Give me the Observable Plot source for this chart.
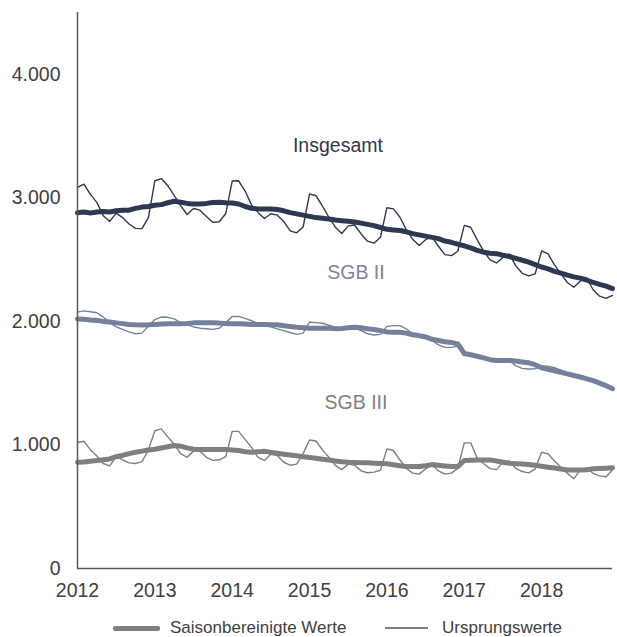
<!DOCTYPE html>
<html><head><meta charset="utf-8">
<script src="https://cdn.jsdelivr.net/npm/d3@7"></script>
<script src="https://cdn.jsdelivr.net/npm/@observablehq/plot@0.6"></script>
<style>
body{margin:0;background:#fff;font-family:"Liberation Sans",Arial,sans-serif;}
#wrap{width:617px;}
#legend{position:relative;width:617px;height:27px;}
#legend .sw{position:absolute;background:#7f7f7f;}
#legend .tx{position:absolute;top:8px;line-height:20px;font-size:17px;color:#404040;white-space:nowrap;}
</style></head><body><div id="wrap"><div id="chart"></div>
<div id="legend">
  <div class="sw" style="left:113px;top:15.5px;width:47px;height:5px;border-radius:2px"></div>
  <div class="tx" style="left:170px">Saisonbereinigte Werte</div>
  <div class="sw" style="left:385px;top:17.3px;width:43px;height:1.4px"></div>
  <div class="tx" style="left:442px">Ursprungswerte</div>
</div></div>
<script>
const years = [2012, 2013, 2014, 2015, 2016, 2017, 2018];
const yTicks = [0, 1000, 2000, 3000, 4000];

const insgesamtOriginal = [
  3084, 3110, 3028, 2963, 2855, 2809, 2876, 2840, 2788, 2753, 2751, 2840,
  3138, 3156, 3098, 3020, 2937, 2865, 2914, 2900, 2849, 2801, 2806, 2873,
  3136, 3138, 3055, 2943, 2882, 2833, 2871, 2860, 2808, 2733, 2717, 2764,
  3032, 3017, 2932, 2843, 2762, 2711, 2773, 2780, 2708, 2649, 2633, 2681,
  2920, 2911, 2845, 2744, 2664, 2614, 2661, 2684, 2608, 2540, 2532, 2568,
  2777, 2762, 2662, 2569, 2498, 2473, 2518, 2545, 2449, 2389, 2368, 2385,
  2570, 2546, 2458, 2384, 2315, 2276, 2325, 2351, 2256, 2204, 2186, 2210
];
const insgesamtSA = [
  2880, 2885, 2878, 2885, 2890, 2885, 2895, 2900, 2900, 2915, 2925, 2930,
  2940, 2945, 2960, 2972, 2965, 2955, 2950, 2950, 2955, 2962, 2965, 2960,
  2958, 2950, 2930, 2915, 2910, 2910, 2910, 2905, 2895, 2880, 2870, 2860,
  2850, 2840, 2835, 2828, 2820, 2815, 2810, 2805, 2795, 2785, 2775, 2760,
  2745, 2740, 2735, 2725, 2710, 2700, 2690, 2680, 2670, 2650, 2640, 2625,
  2612, 2595, 2575, 2560, 2552, 2548, 2535, 2525, 2510, 2495, 2480, 2460,
  2440, 2425, 2405, 2390, 2375, 2360, 2350, 2335, 2315, 2300, 2285, 2265
];
const sgb2Original = [
  2075, 2085, 2078, 2070, 2035, 1990, 1955, 1935, 1915, 1900, 1905, 1960,
  2015, 2035, 2033, 2020, 1990, 1975, 1955, 1945, 1940, 1935, 1945, 1990,
  2040, 2040, 2025, 2005, 1985, 1970, 1955, 1940, 1925, 1910, 1895, 1905,
  1995, 1990, 1985, 1970, 1950, 1940, 1945, 1945, 1925, 1900, 1890, 1895,
  1960, 1966, 1966, 1940, 1900, 1870, 1865, 1845, 1810, 1790, 1790, 1800,
  1745, 1740, 1725, 1705, 1690, 1680, 1680, 1685, 1640, 1620, 1615, 1616,
  1640, 1638, 1625, 1605, 1585, 1570, 1555, 1540, 1515, 1495, 1470, 1445
];
const sgb2SA = [
  2020, 2018, 2012, 2008, 2000, 1995, 1988, 1982, 1975, 1972, 1971, 1972,
  1975, 1978, 1980, 1980, 1980, 1983, 1988, 1990, 1988, 1988, 1986, 1982,
  1980, 1980, 1978, 1975, 1974, 1974, 1973, 1972, 1965, 1958, 1952, 1948,
  1944, 1944, 1945, 1946, 1940, 1942, 1948, 1952, 1948, 1940, 1935, 1925,
  1915, 1912, 1912, 1905, 1892, 1885, 1875, 1855, 1845, 1835, 1830, 1818,
  1740, 1730, 1718, 1705, 1690, 1683, 1683, 1683, 1680, 1672, 1665, 1650,
  1625, 1612, 1600, 1588, 1575, 1562, 1550, 1535, 1520, 1500, 1480, 1455
];
const sgb3Original = [
  1020, 1030, 960, 910, 850, 830, 905, 880, 855, 850, 865, 960,
  1115, 1130, 1065, 1005, 930, 900, 950, 950, 900, 875, 880, 905,
  1110, 1110, 1045, 980, 900, 875, 925, 915, 860, 836, 845, 930,
  1040, 1032, 960, 900, 835, 800, 845, 835, 790, 775, 780, 795,
  968, 955, 880, 810, 772, 764, 805, 840, 790, 764, 772, 810,
  1017, 1017, 895, 850, 808, 800, 860, 870, 810, 785, 774, 805,
  941, 928, 870, 820, 770, 726, 800, 815, 770, 750, 743, 800
];
const sgb3SA = [
  860, 862, 868, 874, 880, 887, 905, 915, 930, 941, 950, 960,
  965, 975, 985, 995, 990, 976, 965, 963, 963, 963, 963, 963,
  960, 955, 945, 941, 945, 949, 940, 932, 925, 919, 912, 905,
  898, 892, 885, 878, 870, 864, 860, 858, 856, 855, 852, 849,
  847, 840, 832, 825, 825, 825, 832, 841, 835, 830, 825, 825,
  874, 877, 879, 879, 879, 870, 860, 852, 848, 845, 841, 835,
  828, 820, 813, 805, 798, 798, 798, 800, 807, 810, 812, 815
];

const seriesColors = {ins: "#2e3951", sgb2: "#75809a", sgb3: "#7f7f7f"};
const fmt = d => d3.format(",")(d).replace(/,/g, ".");
const idx = (d, i) => i;

function thin(arr, color) {
  return Plot.line(arr, {x: idx, y: d => d, stroke: color, strokeWidth: 1.4, strokeLinejoin: "round"});
}
function thick(arr, color) {
  return Plot.line(arr, {x: idx, y: d => d, stroke: color, strokeWidth: 5, strokeLinejoin: "round", strokeLinecap: "round"});
}

const chart = Plot.plot({
  width: 617,
  height: 610,
  marginLeft: 77,
  marginRight: 5,
  marginTop: 12,
  marginBottom: 42,
  style: {fontFamily: '"Liberation Sans", Arial, sans-serif', fontSize: "19.5px", color: "#404040", background: "#fff"},
  x: {domain: [0, 83]},
  y: {domain: [0, 4500]},
  marks: [
    Plot.axisY({ticks: yTicks, tickFormat: fmt, tickSize: 0, tickPadding: 17, label: null}),
    Plot.axisX({ticks: years.map((y, i) => i * 12), tickFormat: v => String(years[Math.round(v / 12)]), tickSize: 0, tickPadding: 15, label: null}),
    thin(sgb3Original, seriesColors.sgb3),
    thick(sgb3SA, seriesColors.sgb3),
    thin(sgb2Original, seriesColors.sgb2),
    thick(sgb2SA, seriesColors.sgb2),
    thin(insgesamtOriginal, seriesColors.ins),
    thick(insgesamtSA, seriesColors.ins),
    Plot.ruleX([0], {stroke: "#595959", strokeWidth: 1.5}),
    Plot.ruleY([0], {stroke: "#595959", strokeWidth: 1.5}),
    Plot.text([{x: 40.4, y: 3422, t: "Insgesamt", c: seriesColors.ins},
               {x: 43.2, y: 2395, t: "SGB II", c: "#7a859c"},
               {x: 43.2, y: 1343, t: "SGB III", c: "#808080"}],
      {x: "x", y: "y", text: "t", fill: d => d.c, fontSize: 19.5})
  ]
});
document.getElementById("chart").appendChild(chart);
</script></body></html>
